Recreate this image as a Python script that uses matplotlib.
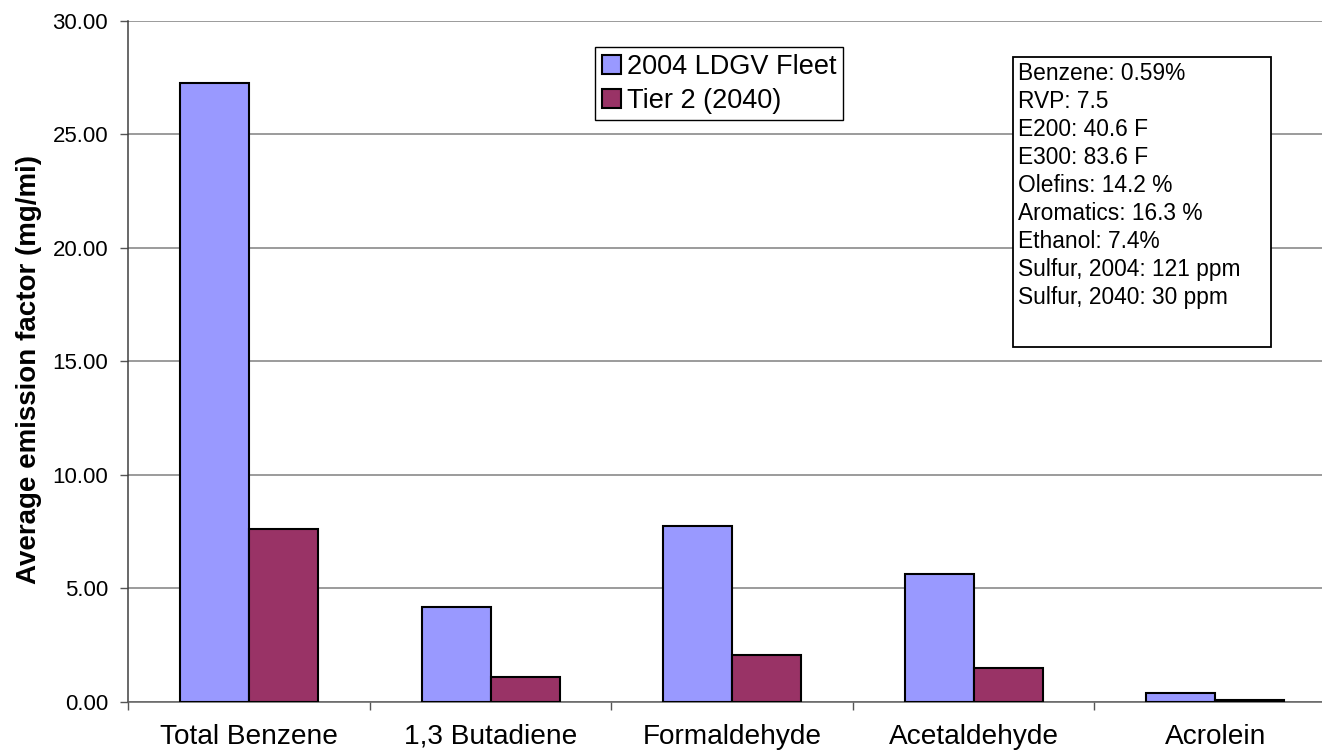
import numpy as np
import matplotlib
matplotlib.use('Agg')
import matplotlib.pyplot as plt
from matplotlib.patches import Rectangle

# Chart data
categories = ['Total Benzene', '1,3 Butadiene', 'Formaldehyde', 'Acetaldehyde', 'Acrolein']
fleet_2004 = [27.27, 4.18, 7.75, 5.61, 0.36]
tier2_2040 = [7.59, 1.09, 2.05, 1.49, 0.08]
series_names = ['2004 LDGV Fleet', 'Tier 2 (2040)']
fuel_notes = [
    'Benzene: 0.59%',
    'RVP: 7.5',
    'E200: 40.6 F',
    'E300: 83.6 F',
    'Olefins: 14.2 %',
    'Aromatics: 16.3 %',
    'Ethanol: 7.4%',
    'Sulfur, 2004: 121 ppm',
    'Sulfur, 2040: 30 ppm',
]
y_ticks = [0, 5, 10, 15, 20, 25, 30]

plt.rcParams['font.family'] = ['Liberation Sans', 'DejaVu Sans']

W, H = 1322, 754
fig = plt.figure(figsize=(W / 100, H / 100), dpi=100)
ax = fig.add_axes([128.3 / W, 1 - 701.5 / H, (1336 - 128.3) / W, (701.5 - 21) / H])

x = np.arange(len(categories))
bw = 0.2856
b1 = ax.bar(x - bw / 2, fleet_2004, bw, color='#9999FF', edgecolor='black',
            linewidth=1.5, label=series_names[0], zorder=3)
b2 = ax.bar(x + bw / 2, tier2_2040, bw, color='#993366', edgecolor='black',
            linewidth=1.5, label=series_names[1], zorder=3)

ax.set_xlim(-0.5, len(categories) - 0.5)
ax.set_ylim(0, 30)
ax.set_yticks(y_ticks)
ax.set_yticklabels([f'{v:.2f}' for v in y_ticks], fontsize=16)
ax.yaxis.grid(True, color='#808080', linewidth=1.1, zorder=0)

# category boundaries carry the ticks, names sit at the centres
ax.set_xticks(np.arange(len(categories) + 1) - 0.5)
ax.set_xticklabels([])
ax.set_xticks(x, minor=True)
ax.set_xticklabels(categories, minor=True, fontsize=20.2)
ax.tick_params(axis='x', which='major', length=6, color='#555555', width=1)
ax.tick_params(axis='x', which='minor', length=0, pad=16)
ax.tick_params(axis='y', length=6, color='#555555', width=1, pad=8.5)

for side in ['top', 'right']:
    ax.spines[side].set_visible(False)
ax.spines['left'].set_color('#404040')
ax.spines['bottom'].set_color('#606060')
ax.spines['left'].set_linewidth(1.1)
ax.spines['bottom'].set_linewidth(1.1)

ax.set_ylabel('Average emission factor (mg/mi)', fontsize=20, fontweight='bold')
ax.yaxis.set_label_coords((41.7 - 128.3) / 1207.7, (701.5 - 370) / 680.5)

leg = ax.legend(
    handles=[b1, b2],
    loc='upper left',
    bbox_to_anchor=(595 / W, 1 - 47.3 / H),
    bbox_transform=fig.transFigure,
    fontsize=19.5,
    frameon=True,
    fancybox=False,
    framealpha=1,
    edgecolor='black',
    borderpad=0.25,
    borderaxespad=0,
    handlelength=0.7,
    handleheight=0.7,
    handletextpad=0.22,
    labelspacing=0.28,
)
leg.get_frame().set_linewidth(1.0)
leg.set_zorder(5)

# fuel property box
box = Rectangle((1013 / W, 1 - 347.3 / H), (1270.7 - 1013) / W, (347.3 - 57.3) / H,
                transform=fig.transFigure, facecolor='white', edgecolor='black',
                linewidth=1.3, zorder=6)
fig.patches.append(box)
for i, line in enumerate(fuel_notes):
    fig.text(1018 / W, 1 - (80 + 28 * i) / H, line, fontsize=16.4,
             va='baseline', ha='left', zorder=7)

fig.savefig('out.png', dpi=100)
